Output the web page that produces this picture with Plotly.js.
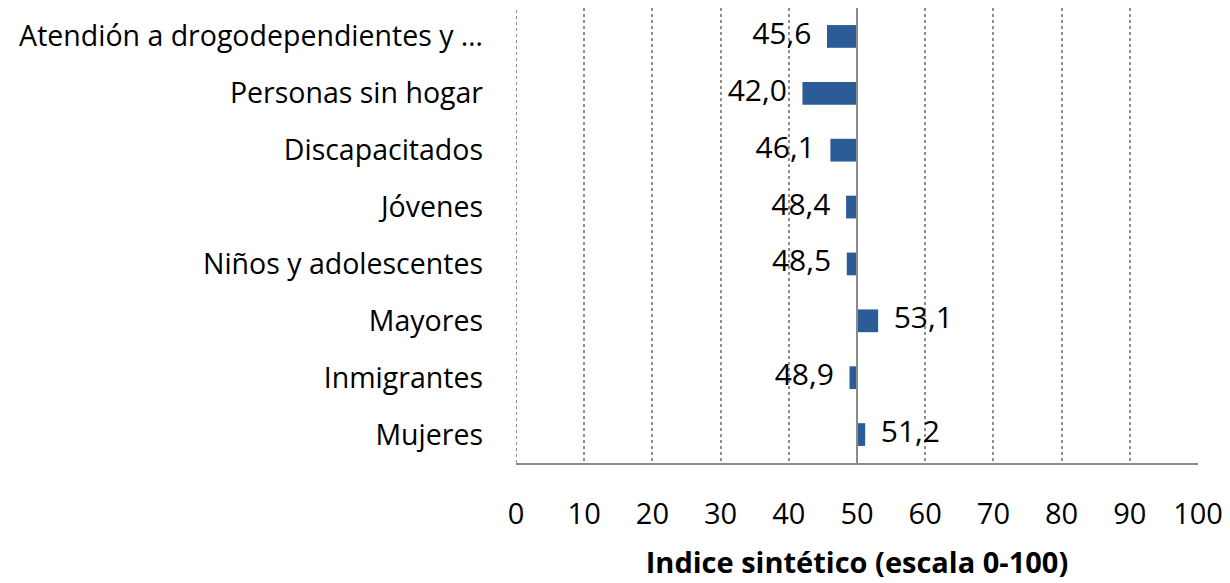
<!DOCTYPE html>
<html><head><meta charset="utf-8">
<script src="https://cdn.plot.ly/plotly-3.0.1.min.js"></script>
<style>body{margin:0;background:#fff}#chart{width:1230px;height:583px}</style>
</head><body><div id="chart"></div>
<script>
const categories = ["Atendión a drogodependientes y …","Personas sin hogar","Discapacitados","Jóvenes","Niños y adolescentes","Mayores","Inmigrantes","Mujeres"];
const values = [45.6, 42.0, 46.1, 48.4, 48.5, 53.1, 48.9, 51.2];
const baseline = 50;
const tickVals = [0,10,20,30,40,50,60,70,80,90,100];
const axisTitle = "Indice sintético (escala 0-100)";

const font = "'Open Sans', Lato, sans-serif";
const labels = values.map(v => v.toFixed(1).replace('.', ','));
const pad = "\u00a0\u00a0";

const bars = {
  type: 'bar', orientation: 'h',
  y: categories, x: values.map(v => v - baseline), base: baseline,
  width: 0.4, marker: {color: '#2B5C98'}, hoverinfo: 'skip'
};
const txt = {
  type: 'scatter', mode: 'text', y: categories, x: values,
  text: values.map((v,i) => v < baseline ? labels[i] + pad : pad + labels[i]),
  textposition: values.map(v => v < baseline ? 'middle left' : 'middle right'),
  textfont: {family: font, size: 30, color: '#000'},
  cliponaxis: false, hoverinfo: 'skip'
};
const layout = {
  width: 1230, height: 583,
  margin: {l: 516, r: 32, t: 8, b: 120},
  paper_bgcolor: '#fff', plot_bgcolor: '#fff',
  showlegend: false,
  font: {family: font, size: 28, color: '#000'},
  xaxis: {
    range: [0, 100], tickvals: tickVals, ticktext: tickVals.map(String),
    showgrid: true, gridcolor: '#909090', griddash: 'dot', gridwidth: 2,
    zeroline: false, showline: true, linecolor: '#8a8a8a', linewidth: 2,
    ticks: '', ticklabelstandoff: 24,
    tickfont: {family: font, size: 29, color: '#000'},
    title: {text: axisTitle, font: {family: font, size: 29, color: '#000', weight: 'bold'}, standoff: 22},
    fixedrange: true
  },
  yaxis: {
    categoryorder: 'array', categoryarray: categories, autorange: 'reversed',
    showgrid: false, zeroline: false, showline: false, ticks: '',
    ticklabelstandoff: 32,
    tickfont: {family: font, size: 28.5, color: '#000'},
    fixedrange: true
  },
  shapes: [
    {type: 'line', xref: 'x', yref: 'paper', x0: 0, x1: 0, y0: 0, y1: 1,
     line: {color: '#909090', width: 2, dash: 'dot'}},
    {type: 'line', xref: 'x', yref: 'paper', x0: baseline, x1: baseline, y0: 0, y1: 1,
     line: {color: '#8a8a8a', width: 2}}
  ]
};
Plotly.newPlot('chart', [bars, txt], layout, {staticPlot: true, displayModeBar: false});
</script></body></html>
